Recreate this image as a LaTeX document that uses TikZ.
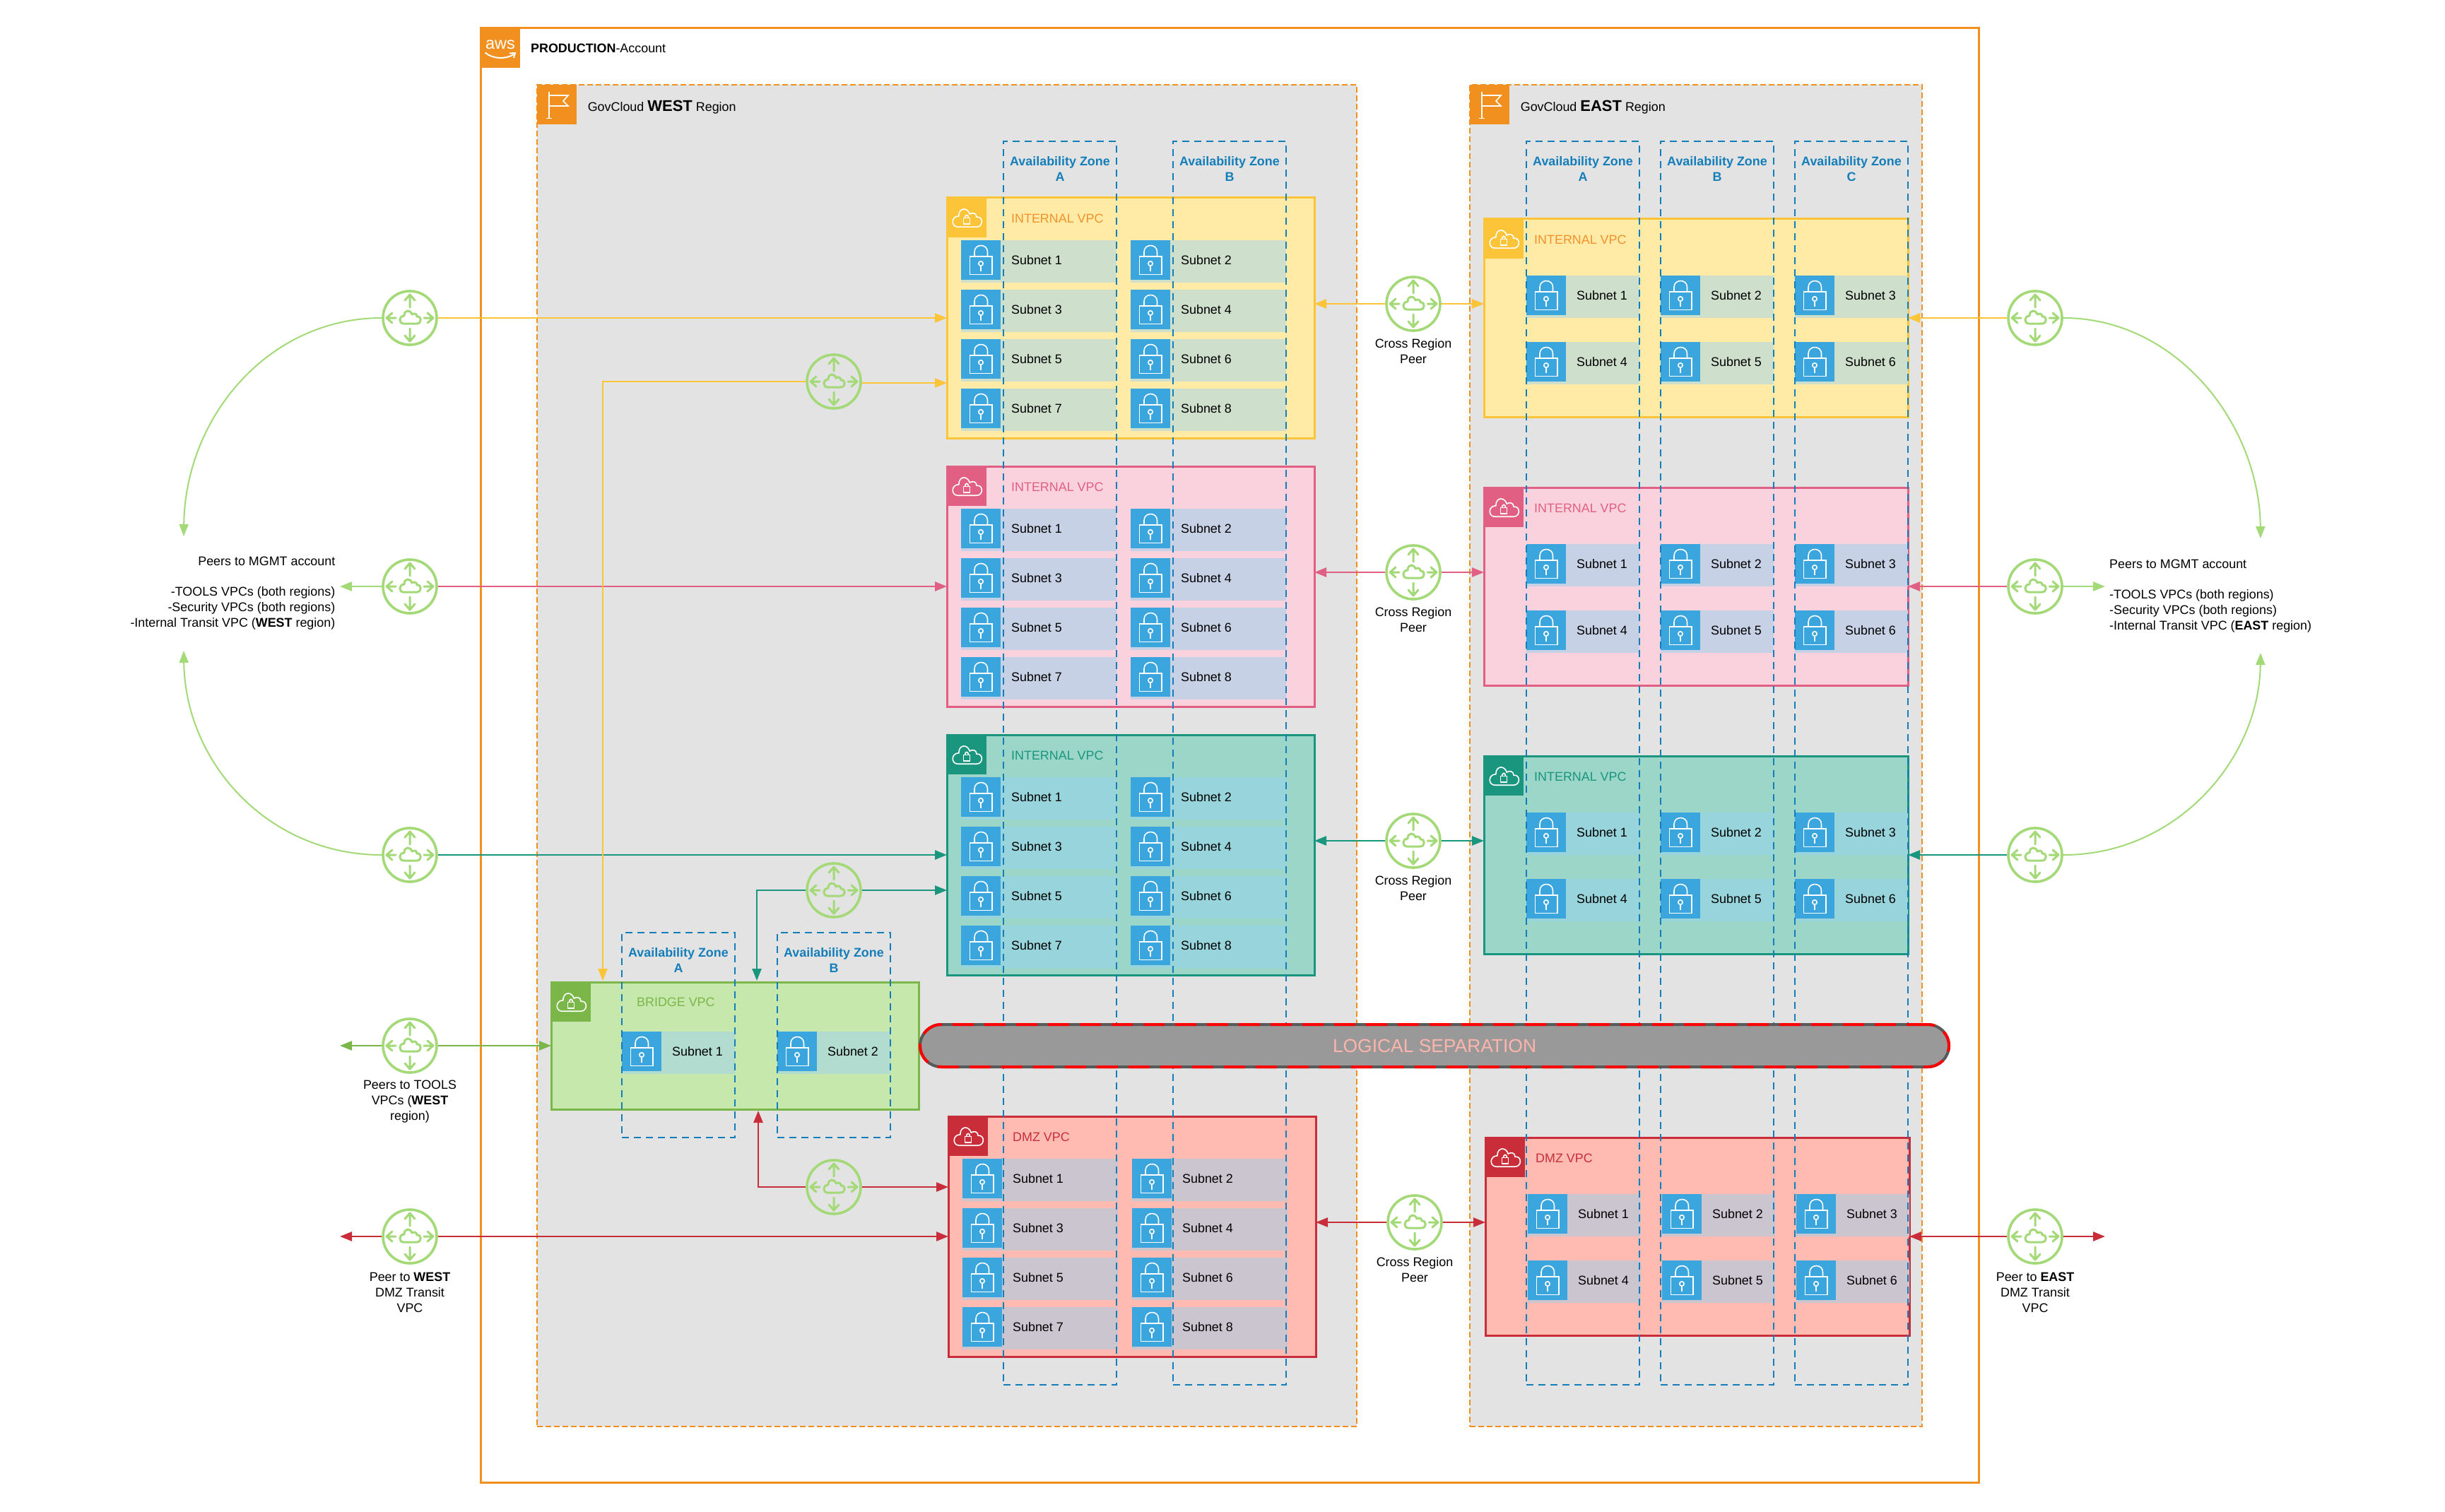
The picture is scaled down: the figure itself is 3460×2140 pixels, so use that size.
\documentclass[tikz,border=0pt]{standalone}
\usepackage{fontspec}
\setmainfont{Liberation Sans}
\usetikzlibrary{arrows.meta}
\definecolor{awsorange}{HTML}{F2901F}
\definecolor{regiongray}{HTML}{E3E3E3}
\definecolor{azblue}{HTML}{147EBA}
\definecolor{lockblue}{HTML}{3AA6DD}
\definecolor{routergreen}{HTML}{A3D977}
\definecolor{yelS}{HTML}{FCC438}\definecolor{yelF}{HTML}{FFEAA6}\definecolor{yelB}{HTML}{CEDFCC}\definecolor{yelT}{HTML}{F2922B}
\definecolor{pnkS}{HTML}{E15F83}\definecolor{pnkF}{HTML}{F9D2DE}\definecolor{pnkB}{HTML}{C7D1E5}
\definecolor{tealS}{HTML}{19967D}\definecolor{tealF}{HTML}{9BD6C8}\definecolor{tealB}{HTML}{98D4DC}
\definecolor{redS}{HTML}{C92D39}\definecolor{redF}{HTML}{FFBBB1}\definecolor{redB}{HTML}{CBC5D0}
\definecolor{grnS}{HTML}{7AB648}\definecolor{grnF}{HTML}{C7E8AC}\definecolor{grnB}{HTML}{B2DCCF}
\definecolor{sepT}{HTML}{FFB4AC}
\newcommand{\txtfont}{\fontsize{17.9}{22}\selectfont}
\tikzset{
  account/.style={draw=awsorange,line width=3pt,fill=white,anchor=north west,inner sep=0pt,outer sep=0pt,minimum width=2120pt,minimum height=2058pt},
  regionbox/.style={draw=awsorange,line width=2.2pt,dash pattern=on 8pt off 4pt,fill=regiongray,anchor=north west,inner sep=0pt,outer sep=0pt,minimum height=1899pt},
  azbox/.style={draw=azblue,line width=2.2pt,dash pattern=on 10pt off 7pt,anchor=north west,inner sep=0pt,outer sep=0pt,minimum width=160pt},
  azlabel/.style={font=\txtfont\bfseries,text=azblue,align=center,inner sep=0pt},
  vpcbox/.style={line width=3pt,anchor=north west,inner sep=0pt,outer sep=0pt},
  badgebox/.style={anchor=north west,inner sep=0pt,outer sep=0pt,minimum size=56pt},
  plaintext/.style={font=\txtfont,text=black,inner sep=0pt},
  vpclabel/.style={font=\txtfont,anchor=west,inner sep=0pt},
  subbody/.style={anchor=north west,inner sep=0pt,outer sep=0pt,minimum height=60pt},
  lockbox/.style={anchor=north west,inner sep=0pt,outer sep=0pt,minimum size=56pt,fill=lockblue},
  router/.style={circle,draw=routergreen,line width=3.6pt,inner sep=0pt,minimum size=76pt},
  wire/.style={draw=#1,line width=2.6pt,-{Triangle[length=17pt,width=13pt]}},
  thinwire/.style={draw=#1,line width=2pt,-{Triangle[length=17pt,width=13pt]}},
  iconline/.style={draw=white,line width=1.6pt},
  separator/.style={draw=black!65,line width=4pt,fill=black!40,rounded corners=30pt,inner sep=0pt,
    minimum width=1456pt,minimum height=60pt,font=\fontsize{26.4}{30}\selectfont,text=sepT,
    postaction={draw=red,line width=4pt,dash pattern=on 30pt off 15pt}},
  lockicon/.pic={
    \draw[iconline] (12.5,22.7) rectangle (44,48.3);
    \draw[iconline] (19,22.7) -- (19,16.5) .. controls (19,4.5) and (37.5,4.5) .. (37.5,16.5) -- (37.5,22.7);
    \draw[iconline] (28,33) circle[radius=3.2];
    \draw[iconline] (28,36.2) -- (28,44);
  },
  cloudlock/.pic={
    \begin{scope}[shift={(28,30)},scale=1.4]
    \draw[iconline] (-9,8) -- (10,8) .. controls (17,8) and (17,-3) .. (10,-2) .. controls (10,-6) and (6,-7) .. (3,-5) .. controls (1,-12) and (-8,-12) .. (-8,-3) .. controls (-16,-3) and (-16,8) .. (-9,8) -- cycle;
    \draw[iconline] (-3.2,-1) rectangle (3.2,5);
    \draw[iconline] (-1.8,-1) .. controls (-1.8,-5) and (1.8,-5) .. (1.8,-1);
    \end{scope}
  },
  routericon/.pic={
    \begin{scope}[line width=3pt,line cap=round,line join=round]
    \draw[routergreen] (-9,8) -- (10,8) .. controls (17,8) and (17,-3) .. (10,-2) .. controls (10,-6) and (6,-7) .. (3,-5) .. controls (1,-12) and (-8,-12) .. (-8,-3) .. controls (-16,-3) and (-16,8) .. (-9,8) -- cycle;
    \draw[routergreen] (0,-15) -- (0,-33) (-7,-25) -- (0,-33) -- (7,-25);
    \draw[routergreen] (0,15) -- (0,33) (-7,25) -- (0,33) -- (7,25);
    \draw[routergreen] (-20,0) -- (-33,0) (-25,-7) -- (-33,0) -- (-25,7);
    \draw[routergreen] (20,0) -- (33,0) (25,-7) -- (33,0) -- (25,7);
    \end{scope}
  },
  flagicon/.pic={
    \draw[iconline] (17,10) -- (17,47.5) (13,47.5) -- (21,47.5);
    \draw[iconline] (17,15) -- (44,15) -- (37,23) -- (44,30) -- (17,30);
  },
  smile/.pic={
    \draw[draw=white,line width=2pt] (6.5,34.5) .. controls (18,44) and (36,44) .. (47,37);
    \draw[draw=white,line width=2pt] (41,35.5) -- (49,35) -- (47,42);
  },
}
% name, x, y, body width, body colour, text
\newcommand{\subnet}[6]{
  \node[subbody,fill=#5,minimum width=#4 pt] (#1) at (#2,#3) {};
  \node[lockbox] (#1k) at (#2,#3) {};
  \pic at (#1k.north west) {lockicon};
  \node[plaintext] (#1t) at (#2+107,#3+28) {#6};
}
% name, x, y, accent, fill, body, label colour, label
\newcommand{\westvpc}[8]{
  \node[vpcbox,draw=#4,fill=#5,minimum width=520pt,minimum height=340pt] (#1) at (#2,#3) {};
  \node[badgebox,fill=#4] (#1b) at (#2,#3) {};
  \pic at (#1b.north west) {cloudlock};
  \node[vpclabel,text=#7] (#1l) at (#2+91,#3+29) {#8};
  \foreach \n/\cc/\rr in {1/0/0,2/1/0,3/0/1,4/1/1,5/0/2,6/1/2,7/0/3,8/1/3}{
    \subnet{#1s\n}{#2+20+240*\cc}{#3+60+70*\rr}{220}{#6}{Subnet \n}
  }
}
\newcommand{\eastvpc}[8]{
  \node[vpcbox,draw=#4,fill=#5,minimum width=600pt,minimum height=280pt] (#1) at (#2,#3) {};
  \node[badgebox,fill=#4] (#1b) at (#2,#3) {};
  \pic at (#1b.north west) {cloudlock};
  \node[vpclabel,text=#7] (#1l) at (#2+71,#3+29) {#8};
  \foreach \n/\cc/\rr in {1/60/0,2/250/0,3/440/0,4/60/1,5/250/1,6/440/1}{
    \subnet{#1s\n}{#2+\cc}{#3+80+94*\rr}{160}{#6}{Subnet \n}
  }
}
% name, x, top, height, letter
\newcommand{\azone}[5]{
  \node[azbox,minimum height=#4 pt] (#1) at (#2,#3) {};
  \node[azlabel] (#1t) at (#2+80,#3+39) {Availability Zone\\#5};
}
\begin{document}
\begin{tikzpicture}[x=1pt,y=-1pt]
\useasboundingbox (0,0) rectangle (3460,2140);
\fill[white] (0,0) rectangle (3460,2140);
% account
\node[account] (acct) at (680,40) {};
\node[badgebox,fill=awsorange] (acctb) at (680,40) {};
\node[inner sep=0pt,text=white,font=\fontsize{23.5}{24}\selectfont] (awst) at (708,63) {aws};
\pic at (acctb.north west) {smile};
\node[plaintext,anchor=west] (acctl) at (751,68) {\textbf{PRODUCTION}-Account};
% regions
\node[regionbox,minimum width=1160pt] (rw) at (760,120) {};
\node[regionbox,minimum width=640pt] (re) at (2080,120) {};
\node[badgebox,fill=awsorange] (rwb) at (760,120) {};
\node[badgebox,fill=awsorange] (reb) at (2080,120) {};
\pic at (rwb.north west) {flagicon};
\pic at (reb.north west) {flagicon};
\node[plaintext,anchor=west] (rwl) at (831.6,152) {GovCloud {\fontsize{22}{22}\selectfont\bfseries WEST} Region};
\node[plaintext,anchor=west] (rel) at (2151.6,152) {GovCloud {\fontsize{22}{22}\selectfont\bfseries EAST} Region};
% west VPCs
\westvpc{wy}{1340}{280}{yelS}{yelF}{yelB}{yelT}{INTERNAL VPC}
\westvpc{wp}{1340}{660}{pnkS}{pnkF}{pnkB}{pnkS}{INTERNAL VPC}
\westvpc{wt}{1340}{1040}{tealS}{tealF}{tealB}{tealS}{INTERNAL VPC}
\westvpc{wd}{1342}{1580}{redS}{redF}{redB}{redS}{DMZ VPC}
% east VPCs
\eastvpc{ey}{2100}{310}{yelS}{yelF}{yelB}{yelT}{INTERNAL VPC}
\eastvpc{ep}{2100}{690}{pnkS}{pnkF}{pnkB}{pnkS}{INTERNAL VPC}
\eastvpc{et}{2100}{1070}{tealS}{tealF}{tealB}{tealS}{INTERNAL VPC}
\eastvpc{ed}{2102}{1610}{redS}{redF}{redB}{redS}{DMZ VPC}
% bridge VPC
\node[vpcbox,draw=grnS,fill=grnF,minimum width=520pt,minimum height=180pt] (br) at (780,1390) {};
\node[badgebox,fill=grnS] (brb) at (780,1390) {};
\pic at (brb.north west) {cloudlock};
\node[vpclabel,text=grnS] (brl) at (901,1418) {BRIDGE VPC};
\subnet{brs1}{880}{1460}{160}{grnB}{Subnet 1}
\subnet{brs2}{1100}{1460}{160}{grnB}{Subnet 2}
% availability zones
\azone{azwa}{1420}{200}{1760}{A}
\azone{azwb}{1660}{200}{1760}{B}
\azone{azea}{2160}{200}{1760}{A}
\azone{azeb}{2350}{200}{1760}{B}
\azone{azec}{2540}{200}{1760}{C}
\azone{azba}{880}{1320}{290}{A}
\azone{azbb}{1100}{1320}{290}{B}
% routers
\foreach \nm/\px/\py in {l1/580/450,l2/580/830,l3/580/1210,l4/580/1480,l5/580/1750,
  i1/1180/540,i2/1180/1260,i3/1180/1680,
  c1/2000/430,c2/2000/810,c3/2000/1190,c4/2002/1730,
  q1/2880/450,q2/2880/830,q3/2880/1210,q4/2880/1750}{
  \node[router] (\nm) at (\px,\py) {};
  \pic at (\nm.center) {routericon};
}
% free connector ends
\coordinate (tipLT) at (260,759);
\coordinate (tipLB) at (260,921);
\coordinate (tipRT) at (3199,762);
\coordinate (tipRB) at (3199,924);
\coordinate (tipL2) at (481,830);
\coordinate (tipL4) at (481,1480);
\coordinate (tipL5) at (481,1750);
\coordinate (tipQ2) at (2979,830);
\coordinate (tipQ4) at (2979,1750);
\coordinate (inA) at (853,1388);
\coordinate (inB) at (1071,1388);
\coordinate (inC) at (1073,1572);
% curved peers
\draw[thinwire=routergreen] (l1.west) .. controls (380,450) and (262,590) .. (tipLT);
\draw[thinwire=routergreen] (l3.west) .. controls (380,1210) and (262,1080) .. (tipLB);
\draw[thinwire=routergreen] (q1.east) .. controls (3080,450) and (3197,600) .. (tipRT);
\draw[thinwire=routergreen] (q3.east) .. controls (3080,1210) and (3197,1075) .. (tipRB);
% account-edge connectors, left
\draw[wire=yelS] (l1.east) -- (wy.west |- l1.east);
\draw[wire=routergreen] (l2.west) -- (tipL2);
\draw[wire=pnkS] (l2.east) -- (wp.west |- l2.east);
\draw[wire=tealS] (l3.east) -- (wt.west |- l3.east);
\draw[wire=grnS] (l4.west) -- (tipL4);
\draw[wire=grnS] (l4.east) -- (br.west |- l4.east);
\draw[wire=redS] (l5.west) -- (tipL5);
\draw[wire=redS] (l5.east) -- (wd.west |- l5.east);
% to bridge
\draw[thinwire=yelS] (i1.west) -| (inA);
\draw[wire=yelS] ([yshift=-2pt]i1.east) -- ([yshift=-2pt]wy.west |- i1.east);
\draw[wire=tealS] (i2.west) -| (inB);
\draw[wire=tealS] (i2.east) -- (wt.west |- i2.east);
\draw[wire=redS] (i3.west) -| (inC);
\draw[wire=redS] (i3.east) -- (wd.west |- i3.east);
% cross region
\draw[wire=yelS] (c1.west) -- (wy.east |- c1.west);
\draw[wire=yelS] (c1.east) -- (ey.west |- c1.east);
\draw[wire=pnkS] (c2.west) -- (wp.east |- c2.west);
\draw[wire=pnkS] (c2.east) -- (ep.west |- c2.east);
\draw[wire=tealS] (c3.west) -- (wt.east |- c3.west);
\draw[wire=tealS] (c3.east) -- (et.west |- c3.east);
\draw[wire=redS] (c4.west) -- (wd.east |- c4.west);
\draw[wire=redS] (c4.east) -- (ed.west |- c4.east);
% account-edge connectors, right
\draw[wire=yelS] (q1.west) -- (ey.east |- q1.west);
\draw[wire=pnkS] (q2.west) -- (ep.east |- q2.west);
\draw[wire=routergreen] (q2.east) -- (tipQ2);
\draw[wire=tealS] (q3.west) -- (et.east |- q3.west);
\draw[wire=redS] (q4.west) -- (ed.east |- q4.west);
\draw[wire=redS] (q4.east) -- (tipQ4);
% labels
\node[plaintext,align=center] (lb4) at (580,1559) {Peers to TOOLS\\VPCs (\textbf{WEST}\\region)};
\node[plaintext,align=center] (lb5) at (580,1829) {Peer to \textbf{WEST}\\DMZ Transit\\VPC};
\node[plaintext,align=center] (qb4) at (2880,1829) {Peer to \textbf{EAST}\\DMZ Transit\\VPC};
\foreach \nm/\px/\py in {cl1/2000/497,cl2/2000/877,cl3/2000/1257,cl4/2002/1797}{
  \node[plaintext,align=center] (\nm) at (\px,\py) {Cross Region\\Peer};
}
\node[plaintext,align=right,anchor=north east] (ltx) at (474.5,788) {Peers to MGMT account\\[21pt]-TOOLS VPCs (both regions)\\-Security VPCs (both regions)\\-Internal Transit VPC (\textbf{WEST} region)};
\node[plaintext,align=left,anchor=north west] (rtx) at (2985,792) {Peers to MGMT account\\[21pt]-TOOLS VPCs (both regions)\\-Security VPCs (both regions)\\-Internal Transit VPC (\textbf{EAST} region)};
% logical separation
\node[separator] (sep) at (2030,1480) {LOGICAL SEPARATION};
\end{tikzpicture}
\end{document}
